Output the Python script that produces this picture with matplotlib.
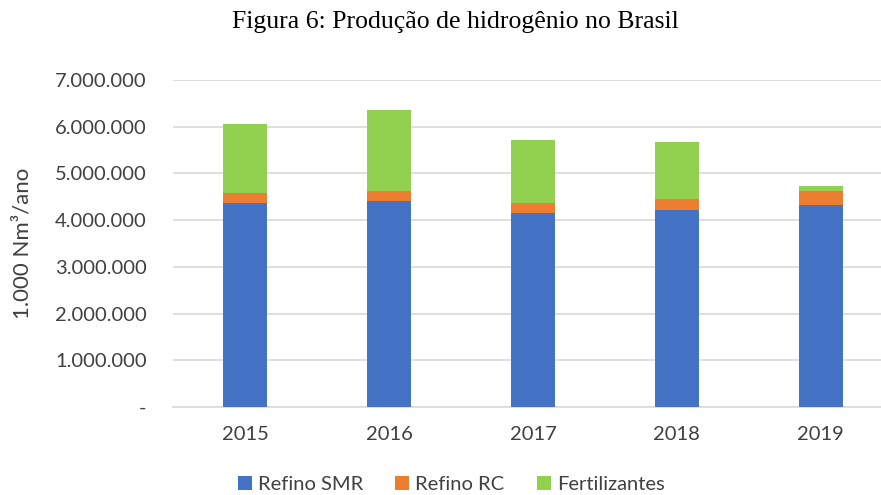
import numpy as np
import matplotlib.pyplot as plt
from matplotlib.ticker import FuncFormatter

anos = ['2015', '2016', '2017', '2018', '2019']
refino_smr = [4370000, 4400000, 4150000, 4220000, 4330000]
refino_rc = [205000, 225000, 210000, 230000, 295000]
fertilizantes = [1480000, 1735000, 1360000, 1220000, 110000]

fig = plt.figure(figsize=(8.81, 4.95), dpi=100)
ax = fig.add_axes([0.1964, 0.1778, 0.817, 0.6606])

x = np.arange(len(anos))
w = 0.31
b1 = ax.bar(x, refino_smr, w, color='#4472C4', label='Refino SMR', zorder=3)
b2 = ax.bar(x, refino_rc, w, bottom=refino_smr, color='#ED7D31', label='Refino RC', zorder=3)
base = np.array(refino_smr) + np.array(refino_rc)
b3 = ax.bar(x, fertilizantes, w, bottom=base, color='#92D050', label='Fertilizantes', zorder=3)

ax.set_xlim(-0.5, 4.5)
ax.set_ylim(0, 7000000)
ax.set_yticks(np.arange(0, 7000001, 1000000))

def fmt(v, pos):
    if v == 0:
        return '-'
    return f'{int(v):,}'.replace(',', '.')

ax.yaxis.set_major_formatter(FuncFormatter(fmt))
ax.set_xticks(x)
ax.set_xticklabels(anos)
ax.grid(axis='y', color='#D9D9D9', linewidth=1.2, zorder=0)
for s in ['top', 'right', 'left']:
    ax.spines[s].set_visible(False)
ax.spines['bottom'].set_color('#D9D9D9')
ax.spines['bottom'].set_linewidth(1.2)
ax.tick_params(axis='both', length=0, labelsize=14.5, labelcolor='#404040', labelfontfamily='Lato')
ax.tick_params(axis='y', pad=19)
ax.tick_params(axis='x', pad=14)

ax.set_ylabel('1.000 Nm³/ano', fontsize=16, color='#404040', family='Lato', labelpad=16)

fig.text(0.517, 0.955, 'Figura 6: Produção de hidrogênio no Brasil', ha='center', va='center',
         fontsize=18.5, family='Liberation Serif', color='black')

fig.legend(handles=[b1, b2, b3], loc='center', bbox_to_anchor=(0.512, 0.022), ncol=3, frameon=False,
           prop={'family': 'Lato', 'size': 14.5}, labelcolor='#404040', handlelength=0.7, handleheight=0.7,
           handletextpad=0.3, columnspacing=1.6)

fig.savefig('out.png', dpi=100)
